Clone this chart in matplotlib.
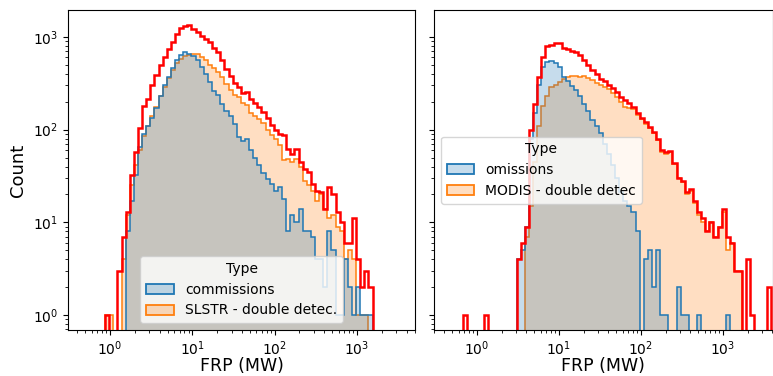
import numpy as np
import matplotlib
matplotlib.use("Agg")
import matplotlib.pyplot as plt
from matplotlib.patches import Patch
from matplotlib.colors import to_rgba

# histogram bins: log10(FRP) start of first bin, bin width in decades
left_start = -0.06
right_start = -0.165
bin_w = 0.05

# left panel (SLSTR)
red_left = [1, 0, 0, 3, 7, 13, 32, 58, 105, 180,
            215, 300, 390, 500, 610, 740, 890, 1080, 1240, 1310,
            1350, 1230, 1120, 1030, 960, 880, 760, 680, 560, 450,
            375, 320, 285, 250, 255, 215, 195, 175, 155, 135,
            112, 100, 90, 88, 62, 55, 62, 45, 38, 35,
            26, 22, 21, 14, 24, 20, 13, 10, 6, 6,
            11, 4, 2, 3, 2]
commissions = [0, 0, 0, 0, 0, 8, 17, 32, 65, 90,
               110, 135, 170, 230, 300, 370, 460, 560, 640, 680,
               660, 620, 560, 470, 400, 330, 260, 235, 190, 160,
               140, 115, 84, 75, 80, 60, 50, 42, 34, 29,
               26, 22, 24, 18, 8, 12, 10, 14, 8, 8,
               7, 4, 4, 2, 8, 5, 1, 1, 4, 2,
               1, 2, 1, 1, 1]
slstr_double = [1, 1, 0, 0, 4, 12, 25, 42, 60, 85,
                110, 140, 175, 230, 290, 360, 440, 520, 580, 620,
                640, 660, 650, 600, 560, 500, 460, 420, 370, 310,
                265, 235, 222, 195, 185, 150, 140, 130, 118, 100,
                88, 80, 68, 47, 48, 45, 48, 40, 28, 25,
                22, 17, 20, 14, 11, 12, 9, 8, 4, 5,
                4, 1, 1, 1, 0]

# right panel (MODIS)
red_right = [1, 0, 0, 0, 0, 1, 0, 0, 0, 0,
             0, 0, 0, 4, 6, 9, 98, 190, 365, 600,
             800, 820, 850, 870, 760, 740, 710, 690, 640, 560,
             500, 440, 400, 355, 336, 305, 280, 255, 225, 210,
             195, 175, 150, 135, 120, 108, 95, 80, 60, 57,
             59, 44, 30, 28, 21, 23, 17, 13, 11, 8,
             10, 7, 9, 14, 7, 6, 3, 3, 0, 4,
             1, 0, 0, 0, 2]
omissions = [0, 0, 0, 0, 0, 0, 0, 0, 0, 0,
             0, 0, 0, 4, 5, 9, 80, 150, 300, 470,
             540, 550, 520, 470, 370, 335, 297, 265, 230, 190,
             160, 128, 110, 92, 70, 55, 42, 30, 21, 17,
             15, 13, 8, 0, 4, 5, 2, 5, 1, 1,
             0, 0, 2, 1, 1, 0, 0, 1, 0, 0,
             0, 0, 0, 0, 1, 0, 0, 0, 0, 0,
             0, 0, 0, 0, 0]
modis_double = [0, 0, 0, 0, 0, 0, 0, 0, 0, 0,
                0, 0, 0, 0, 0, 7, 15, 45, 110, 180,
                230, 285, 300, 330, 350, 365, 380, 375, 365, 380,
                360, 345, 320, 300, 285, 272, 250, 225, 200, 175,
                170, 165, 145, 130, 115, 104, 92, 78, 58, 55,
                58, 43, 30, 27, 20, 22, 16, 12, 10, 8,
                10, 7, 9, 13, 5, 6, 3, 3, 0, 0,
                0, 0, 0, 0, 0]

blue = '#1f77b4'
orange = '#ff7f0e'
base = 1e-3


def draw(ax, start, first, second, total, names, loc):
    edges = 10 ** (start + bin_w * np.arange(len(total) + 1))
    for counts, col in [(second, orange), (first, blue)]:
        c = np.asarray(counts, float)
        c = np.where(c > 0, c, base)
        ax.stairs(c, edges, baseline=base, fill=True, color=col, alpha=0.25, lw=0)
        ax.stairs(c, edges, baseline=base, color=col, lw=1.1)
    t = np.asarray(total, float)
    t = np.where(t > 0, t, base)
    ax.stairs(t, edges, baseline=base, color='red', lw=1.8)
    ax.set_xscale('log')
    ax.set_yscale('log')
    ax.set_xlabel('FRP (MW)', fontsize=12.5, labelpad=-1)
    ax.tick_params(labelsize=10)
    handles = [Patch(facecolor=to_rgba(blue, 0.25), edgecolor=blue, lw=1.3),
               Patch(facecolor=to_rgba(orange, 0.25), edgecolor=orange, lw=1.3)]
    ax.legend(handles, names, title='Type', loc=loc, fontsize=10, title_fontsize=10)


fig = plt.figure(figsize=(7.73, 3.76), dpi=100)
ax1 = fig.add_axes([68 / 773, 46 / 376, 347 / 773, 320 / 376])
ax2 = fig.add_axes([434 / 773, 46 / 376, 338.5 / 773, 320 / 376], sharey=ax1)

draw(ax1, left_start, commissions, slstr_double, red_left,
     ['commissions', 'SLSTR - double detec.'], 'lower center')
draw(ax2, right_start, omissions, modis_double, red_right,
     ['omissions', 'MODIS - double detec'], 'center left')

ax1.set_xlim(0.309, 5070)
ax2.set_xlim(0.30, 4030)
ax1.set_ylim(0.69, 1950)
ax1.set_ylabel('Count', fontsize=13)
ax2.tick_params(labelleft=False)

fig.savefig('out.png', dpi=100)
